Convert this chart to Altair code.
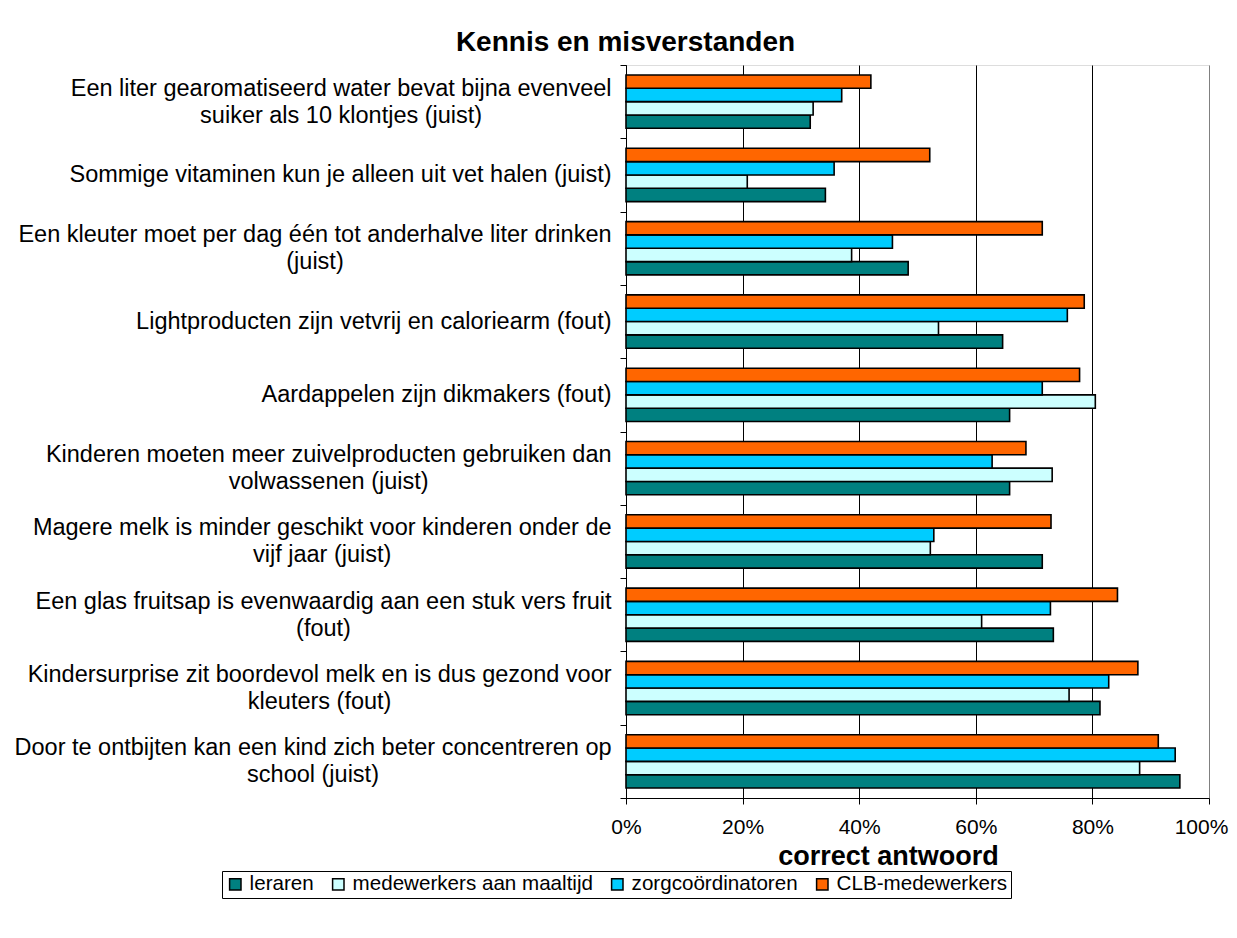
import altair as alt
import pandas as pd

# ---- data ----
categories = [
    "Een liter gearomatiseerd water bevat bijna evenveel|suiker als 10 klontjes (juist)",
    "Sommige vitaminen kun je alleen uit vet halen (juist)",
    "Een kleuter moet per dag één tot anderhalve liter drinken|(juist)",
    "Lightproducten zijn vetvrij en caloriearm (fout)",
    "Aardappelen zijn dikmakers (fout)",
    "Kinderen moeten meer zuivelproducten gebruiken dan|volwassenen (juist)",
    "Magere melk is minder geschikt voor kinderen onder de|vijf jaar (juist)",
    "Een glas fruitsap is evenwaardig aan een stuk vers fruit|(fout)",
    "Kindersurprise zit boordevol melk en is dus gezond voor|kleuters (fout)",
    "Door te ontbijten kan een kind zich beter concentreren op|school (juist)",
]
series = ["leraren", "medewerkers aan maaltijd", "zorgcoördinatoren", "CLB-medewerkers"]
leraren = [0.316, 0.342, 0.484, 0.646, 0.658, 0.658, 0.714, 0.733, 0.813, 0.950]
medewerkers = [0.321, 0.208, 0.387, 0.536, 0.805, 0.731, 0.522, 0.610, 0.760, 0.881]
zorg = [0.370, 0.357, 0.457, 0.757, 0.714, 0.628, 0.528, 0.728, 0.828, 0.942]
clb = [0.420, 0.521, 0.714, 0.786, 0.778, 0.686, 0.729, 0.843, 0.878, 0.913]
colors = ["#008080", "#CCFFFF", "#00CCFF", "#FF6600"]
x_ticks = [0, 0.2, 0.4, 0.6, 0.8, 1.0]

rows = []
for name, vals in zip(series, [leraren, medewerkers, zorg, clb]):
    for c, v in zip(categories, vals):
        rows.append({"vraag": c, "groep": name, "waarde": v})
df = pd.DataFrame(rows)

# ---- label layout: centre multi-line labels inside a right-aligned block ----
LABEL_FS = 23.5
LINE_H = 27
ARIAL = {
    'a': 556, 'b': 556, 'c': 500, 'd': 556, 'e': 556, 'f': 278, 'g': 556, 'h': 556,
    'i': 222, 'j': 222, 'k': 500, 'l': 222, 'm': 833, 'n': 556, 'o': 556, 'p': 556,
    'q': 556, 'r': 333, 's': 500, 't': 278, 'u': 556, 'v': 500, 'w': 722, 'x': 500,
    'y': 500, 'z': 500, 'E': 667, 'S': 667, 'L': 556, 'A': 667, 'K': 667, 'M': 833,
    'D': 722, ' ': 278, '(': 333, ')': 333, '0': 556, '1': 556, 'é': 556,
}


def text_width(s):
    return sum(ARIAL.get(ch, 556) for ch in s) / 1000.0 * LABEL_FS


base_pad = 9
pad_conds = []
off_conds = []
for c in categories:
    lines = c.split("|")
    w = max(text_width(line) for line in lines)
    test = "datum.value === '" + c + "'"
    pad_conds.append({"test": test, "value": base_pad + w / 2})
    if len(lines) > 1:
        off_conds.append({"test": test, "value": -(len(lines) - 1) * LINE_H / 2})

FONT = "Liberation Sans"

y_enc = alt.Y(
    "vraag:N",
    sort=categories,
    scale=alt.Scale(paddingInner=0, paddingOuter=0),
    axis=alt.Axis(
        title=None,
        labelExpr="split(datum.label, '|')",
        labelAlign="center",
        labelBaseline="middle",
        labelLineHeight=LINE_H,
        labelFontSize=LABEL_FS,
        labelFont=FONT,
        labelColor="#000000",
        labelLimit=0,
        labelPadding={"condition": pad_conds, "value": base_pad},
        labelOffset={"condition": off_conds, "value": 0},
        tickBand="extent",
        tickSize=6,
        tickColor="#000000",
        domainColor="#000000",
        grid=False,
    ),
)

bars = alt.Chart(df).mark_bar(stroke="#000000", strokeWidth=1.6).encode(
    x=alt.X(
        "waarde:Q",
        scale=alt.Scale(domain=[0, 1], nice=False),
        axis=alt.Axis(
            values=x_ticks,
            format=".0%",
            title="correct antwoord",
            titleFontSize=27,
            titleFont=FONT,
            titleFontWeight="bold",
            titleColor="#000000",
            titleX=262,
            titleAlign="center",
            titlePadding=6,
            labelFontSize=21,
            labelFont=FONT,
            labelColor="#000000",
            labelPadding=12,
            labelFlush=False,
            labelOffset={"condition": {"test": "datum.value >= 1", "value": -8}, "value": 0},
            tickSize=6,
            tickColor="#000000",
            domainColor="#000000",
            gridColor={"condition": {"test": "datum.value >= 1", "value": "#808080"}, "value": "#000000"},
            gridWidth=1,
        ),
    ),
    y=y_enc,
    yOffset=alt.YOffset(
        "groep:N",
        sort=["CLB-medewerkers", "zorgcoördinatoren", "medewerkers aan maaltijd", "leraren"],
        scale=alt.Scale(paddingInner=0, paddingOuter=0.75),
    ),
    color=alt.Color(
        "groep:N",
        scale=alt.Scale(domain=series, range=colors),
        legend=alt.Legend(
            title=None,
            orient="none",
            direction="horizontal",
            legendX=-404,
            legendY=806,
            strokeColor="#000000",
            padding=3,
            symbolType="square",
            symbolSize=130,
            symbolStrokeColor="#000000",
            symbolStrokeWidth=1.5,
            symbolOpacity=1,
            labelFontSize=20.6,
            labelFont=FONT,
            labelColor="#000000",
            labelOffset=4,
            columnPadding=14,
            labelLimit=0,
        ),
    ),
)

chart = bars.properties(
    width=583,
    height=733,
    title=alt.TitleParams(
        "Kennis en misverstanden",
        fontSize=28,
        font=FONT,
        fontWeight="bold",
        color="#000000",
        anchor="middle",
        dx=-292,
        dy=10,
        offset=6,
    ),
    autosize=alt.AutoSizeParams(type="none"),
    padding={"left": 618, "top": 57, "right": 20, "bottom": 130},
).configure_view(
    stroke="#808080", strokeWidth=1
).configure(background="#FFFFFF")

chart.save("out.html", embed_options={"renderer": "svg", "actions": False})
